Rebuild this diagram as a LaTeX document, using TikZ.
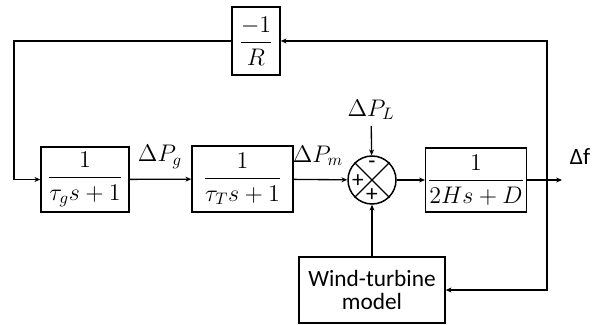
\documentclass[tikz,border=0pt]{standalone}
\usepackage{amsmath}
\usepackage{fontspec}
\setmainfont{Carlito}
\usetikzlibrary{arrows.meta,positioning,calc}

\begin{document}
\begin{tikzpicture}[x=0.6pt,y=-0.6pt,font=\fontsize{14}{16}\selectfont,
  blk/.style={draw,line width=0.9pt,inner sep=1pt,align=center},
  sumc/.style={draw,line width=0.9pt,circle,inner sep=0pt,minimum size=28.8pt},
  e/.style={-{Stealth[length=3.5pt,width=3pt]},line width=0.8pt},
  ln/.style={line width=0.8pt}]
  \useasboundingbox (0,0) rectangle (611,325);
  \node[blk,minimum width=52.8pt,minimum height=39pt] (gov) at (85,179.5) {$\dfrac{1}{\tau_g s+1}$};
  \node[blk,minimum width=60.6pt,minimum height=39.6pt] (turb) at (242.5,179) {$\dfrac{1}{\tau_T s+1}$};
  \node[sumc] (sum) at (372,180) {};
  \node[blk,minimum width=60pt,minimum height=38.4pt] (sys) at (476,180) {$\dfrac{1}{2Hs+D}$};
  \node[blk,minimum width=28.8pt,minimum height=40.8pt] (droop) at (256,41) {$\dfrac{-1}{R}$};
  \node[blk,minimum width=87.6pt,minimum height=39.6pt,text width=84pt] (wind) at (372,290) {Wind-turbine\\[-2pt]model};
  \node (dpl) at (371,110) {$\Delta P_L$};
  \node (dpg) at (160,157) {$\Delta P_g$};
  \node (dpm) at (318,156) {$\Delta P_m$};
  \node (df) at (580,157) {Δf};
  \coordinate (tap) at (547,180);
  \coordinate (out) at (562,180);
  \coordinate (lc) at (14,41);
  % summing junction
  \draw[ln] (sum.45) -- (sum.225) (sum.135) -- (sum.-45);
  \node (sgm) at (372,165) {-};
  \node (sgl) at (358,181) {+};
  \node (sgb) at (372,195) {+};
  % forward path
  \draw[e] (gov) -- (turb);
  \draw[e] (turb) -- (sum);
  \draw[e] (sum) -- (sys);
  \draw[e] (sys) -- (out);
  \draw[e] (dpl) -- (sum);
  \draw[e] (wind) -- (sum);
  % feedback
  \draw[e] (tap) |- (droop);
  \draw[e] (tap) |- (wind);
  \draw[e] (droop) -- (lc) |- (gov);
\end{tikzpicture}
\end{document}
